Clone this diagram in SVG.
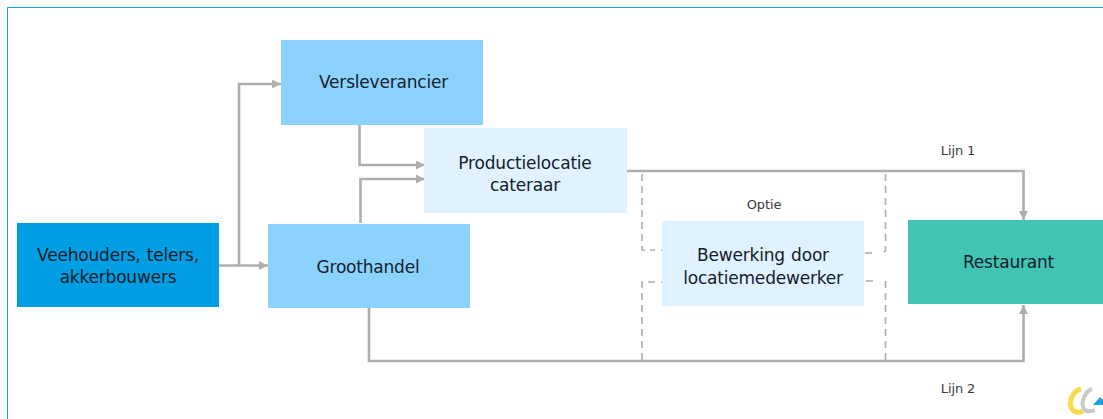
<svg xmlns="http://www.w3.org/2000/svg" width="1103" height="419" viewBox="0 0 1103 419">
<defs>
<marker id="arrow" markerUnits="userSpaceOnUse" markerWidth="10" markerHeight="10" refX="9" refY="4.500" orient="auto"><path d="M0 0L9 4.500L0 9Z" fill="#aeaeae"/></marker>
</defs>
<style>
text{font-family:"DejaVu Sans","Liberation Sans",sans-serif;fill:#14202b;text-anchor:middle}
.n{font-size:17px;letter-spacing:-.2px;word-spacing:1px}
.s{font-size:13px;fill:#3a3a3a;letter-spacing:-.1px}
.c{fill:none;stroke:#aeaeae;stroke-width:2.6}
.d{fill:none;stroke:#aeaeae;stroke-width:1.6;stroke-dasharray:7 5}
</style>
<rect width="1103" height="419" fill="#fff"/>
<path d="M1103 7.500H7.500V419" fill="none" stroke="#1f9cd8" stroke-width="1"/>
<g id="connectors">
<path class="c" d="M219 265.500H268" marker-end="url(#arrow)"/>
<path class="c" d="M239 265V84H281" marker-end="url(#arrow)"/>
<path class="c" d="M359.500 125V165H425" marker-end="url(#arrow)"/>
<path class="c" d="M360.500 223V179H425" marker-end="url(#arrow)"/>
<path class="c" d="M627 171H1023.500V220" marker-end="url(#arrow)"/>
<path class="c" d="M369 308V361H1023.500V305" marker-end="url(#arrow)"/>
<path class="d" d="M642 174V250H655"/>
<path class="d" d="M661 250H662"/>
<path class="d" d="M662 282H661"/>
<path class="d" d="M655 282H642V360"/>
<path class="d" d="M885.500 174V251L883 253"/>
<path class="d" d="M865 253H877"/>
<path class="d" d="M866 281H878"/>
<path class="d" d="M885.500 281V360"/>
</g>
<g id="veehouders"><rect x="17" y="223" width="202" height="84" fill="#009fe3"/><text class="n" x="118" y="261">Veehouders, telers,</text><text class="n" x="118" y="283">akkerbouwers</text></g>
<g id="versleverancier"><rect x="281" y="40" width="202" height="85" fill="#8cd2ff"/><text class="n" x="383.500" y="88">Versleverancier</text></g>
<g id="groothandel"><rect x="268" y="224" width="202" height="84" fill="#8cd2ff"/><text class="n" x="368" y="273">Groothandel</text></g>
<g id="productielocatie"><rect x="424" y="128" width="203" height="85" fill="#e0f2ff"/><text class="n" x="525" y="169">Productielocatie</text><text class="n" x="525" y="191">cateraar</text></g>
<g id="bewerking"><rect x="662" y="221" width="202" height="85" fill="#e0f2ff"/><text class="n" x="763" y="261">Bewerking door</text><text class="n" x="763" y="284">locatiemedewerker</text></g>
<g id="restaurant"><rect x="908" y="220" width="202" height="84" fill="#41c4b2"/><text class="n" x="1008.500" y="268">Restaurant</text></g>
<text class="s" x="958" y="155">Lijn 1</text>
<text class="s" x="958" y="393">Lijn 2</text>
<text class="s" x="764" y="209">Optie</text>
<g id="logo">
<path d="M1081 389C1072 391 1068 403 1072 409C1075 413 1080 413 1083 411" fill="none" stroke="#f5dc4a" stroke-width="5"/>
<path d="M1092 389C1086 391 1081 400 1083 407C1085 412 1090 412 1095 410" fill="none" stroke="#c9c9c9" stroke-width="4"/>
<path d="M1093 405L1100 397L1103 400V405Z" fill="#1b9fe0"/>
</g>
</svg>
